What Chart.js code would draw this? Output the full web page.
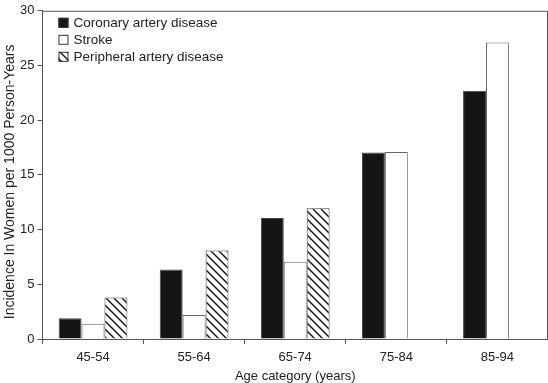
<!DOCTYPE html>
<html>
<head>
<meta charset="utf-8">
<script src="https://cdn.jsdelivr.net/npm/chart.js@4/dist/chart.umd.min.js"></script>
<style>
  html, body { margin: 0; padding: 0; background: #fff; }
  #wrap { position: relative; width: 548px; height: 383px; }
</style>
</head>
<body>
<div id="wrap"><canvas id="chart"></canvas></div>
<script>
// ── Data ─────────────────────────────────────────────────────────────────────
const ageCategories = ['45-54', '55-64', '65-74', '75-84', '85-94'];
const coronary   = [1.9, 6.35, 11.05, 17.05, 22.7];
const stroke     = [1.4, 2.2, 7.05, 17.1, 27.1];
const peripheral = [3.8, 8.1, 11.95, null, null];
const yTitle = 'Incidence In Women per 1000 Person-Years';

const AXIS = '#555555';
const TEXT = '#222222';
const FONT = "'Liberation Sans', Arial, sans-serif";

// ── Hatch pattern for the peripheral series ("\" stripes) ────────────────────
function makeHatch() {
  const size = 8;
  const c = document.createElement('canvas');
  c.width = size; c.height = size;
  const g = c.getContext('2d');
  g.fillStyle = '#ffffff';
  g.fillRect(0, 0, size, size);
  g.strokeStyle = '#111111';
  g.lineWidth = 1.4;
  g.beginPath();
  g.moveTo(-2, -2); g.lineTo(size + 2, size + 2);
  g.moveTo(-2, size - 2); g.lineTo(2, size + 2);
  g.moveTo(size - 2, -2); g.lineTo(size + 2, 2);
  g.stroke();
  return g.createPattern(c, 'repeat');
}

// ── Frame: top + right lines of the plot box, plus the y title ──────────────
const framePlugin = {
  id: 'frame',
  afterDraw(chart) {
    const { ctx, chartArea: a } = chart;
    ctx.save();
    ctx.strokeStyle = AXIS;
    ctx.lineWidth = 1;
    ctx.beginPath();
    ctx.moveTo(a.left, a.top + 0.5);
    ctx.lineTo(a.right - 0.5, a.top + 0.5);
    ctx.lineTo(a.right - 0.5, a.bottom);
    ctx.stroke();

    // y title sits a bit below the plot centre in the reference
    ctx.translate(10, (a.top + a.bottom) / 2 + 7);
    ctx.rotate(-Math.PI / 2);
    ctx.font = '14px ' + FONT;
    ctx.fillStyle = TEXT;
    ctx.textAlign = 'center';
    ctx.textBaseline = 'middle';
    ctx.fillText(yTitle, 0, 0);
    ctx.restore();
  }
};

// ── Legend drawn inside the plot, top-left ───────────────────────────────────
const insideLegend = {
  id: 'insideLegend',
  afterDraw(chart) {
    const { ctx, chartArea: a } = chart;
    ctx.save();
    ctx.font = '13.5px ' + FONT;
    ctx.textBaseline = 'middle';
    chart.data.datasets.forEach((ds, i) => {
      const x = a.left + 16;
      const y = a.top + 12 + i * 17;
      ctx.fillStyle = ds.backgroundColor;
      ctx.fillRect(x, y - 5, 10, 10);
      ctx.strokeStyle = '#333';
      ctx.lineWidth = 1;
      ctx.strokeRect(x + 0.5, y - 4.5, 9, 9);
      ctx.fillStyle = TEXT;
      ctx.fillText(ds.label, x + 15, y + 0.5);
    });
    ctx.restore();
  }
};

const hatch = makeHatch();

new Chart(document.getElementById('chart'), {
  type: 'bar',
  data: {
    labels: ageCategories,
    datasets: [
      { label: 'Coronary artery disease', data: coronary,
        backgroundColor: '#151515', borderColor: '#444', borderWidth: 1 },
      { label: 'Stroke', data: stroke,
        backgroundColor: '#ffffff', borderColor: '#666', borderWidth: 1 },
      { label: 'Peripheral artery disease', data: peripheral,
        backgroundColor: hatch, borderColor: '#444', borderWidth: 1 },
    ],
  },
  options: {
    responsive: true,
    maintainAspectRatio: false,
    animation: false,
    categoryPercentage: 0.68,
    barPercentage: 1.0,
    layout: { padding: { top: 2, right: 0, left: 17, bottom: 0 } },
    plugins: {
      legend: { display: false },
      tooltip: { enabled: false },
    },
    scales: {
      x: {
        afterFit: s => { s.height = 44; },
        grid: { drawOnChartArea: false, color: AXIS, tickLength: 5, offset: true },
        border: { color: AXIS },
        ticks: { color: TEXT, font: { family: FONT, size: 13 }, padding: 6, maxRotation: 0 },
        title: { display: true, text: 'Age category (years)', color: TEXT,
                 font: { family: FONT, size: 13 }, padding: { top: 0, bottom: -1.5 } },
      },
      y: {
        min: 0, max: 30,
        grid: { drawOnChartArea: false, color: AXIS, tickLength: 5 },
        border: { color: AXIS },
        ticks: { stepSize: 5, color: TEXT, font: { family: FONT, size: 13 }, padding: 3 },
      },
    },
  },
  plugins: [framePlugin, insideLegend],
});
</script>
</body>
</html>
